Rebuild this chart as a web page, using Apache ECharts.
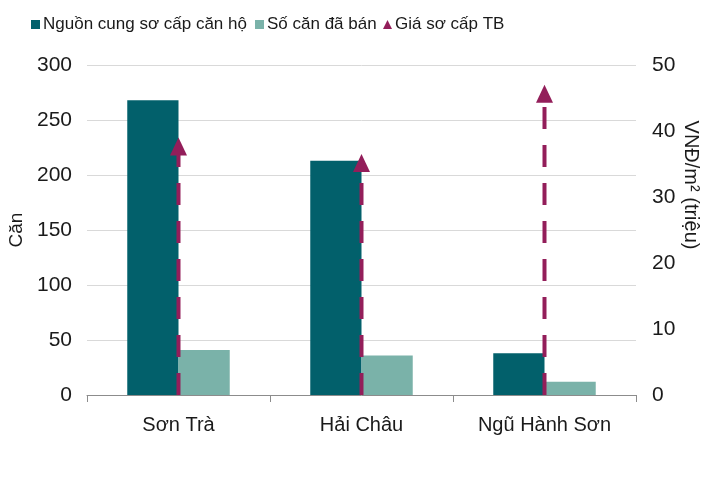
<!DOCTYPE html>
<html>
<head>
<meta charset="utf-8">
<script src="https://cdn.jsdelivr.net/npm/echarts@6/dist/echarts.min.js"></script>
<style>
  html, body { margin: 0; padding: 0; background: #fff; }
  #chart { width: 727px; height: 496px; }
</style>
</head>
<body>
<div id="chart"></div>
<script>
// dữ liệu
const districts = ['Sơn Trà', 'Hải Châu', 'Ngũ Hành Sơn']
const supply = [268, 213, 38]      // Nguồn cung sơ cấp căn hộ
const sold = [41, 36, 12]          // Số căn đã bán
const price = [39, 36.5, 47]       // Giá sơ cấp TB (triệu VNĐ/m2)
const leftTicks = [0, 50, 100, 150, 200, 250, 300]
const rightTicks = [0, 10, 20, 30, 40, 50]

const FONT = '"Liberation Sans", Arial, sans-serif'
const DARK = '#02606b'
const LIGHT = '#7ab2a9'
const PLUM = '#931e5a'
const INK = '#1a1a1a'

const myChart = echarts.init(document.getElementById('chart'))

// mũi tên đứt nét từ 0 lên giá trị
const arrowItem = (params, api) => {
	const top = api.coord([api.value(0), api.value(1)])
	const base = api.coord([api.value(0), 0])
	const head = 18, half = 8.5
	return {
		type: 'group',
		children: [
			{
				type: 'line',
				shape: { x1: base[0], y1: base[1], x2: top[0], y2: top[1] + head - 2 },
				style: { stroke: PLUM, lineWidth: 4, lineDash: [22, 16] }
			},
			{
				type: 'polygon',
				shape: { points: [[top[0], top[1]], [top[0] - half, top[1] + head], [top[0] + half, top[1] + head]] },
				style: { fill: PLUM }
			}
		]
	}
}

// mỗi mục chú thích đặt riêng một chỗ như hình gốc
const legendAt = (left, name, icon) => ({
	left: left,
	top: 11,
	itemWidth: 9,
	itemHeight: 9,
	itemGap: 0,
	textStyle: { fontFamily: FONT, fontSize: 17, color: INK, padding: [0, 0, 0, -2] },
	data: [{ name: name, icon: icon }]
})

myChart.setOption({
	animation: false,
	textStyle: { fontFamily: FONT },
	legend: [
		legendAt(26, 'Nguồn cung sơ cấp căn hộ', 'rect'),
		legendAt(250, 'Số căn đã bán', 'rect'),
		legendAt(378, 'Giá sơ cấp TB', 'triangle')
	],
	grid: { left: 87, right: 91, top: 65, bottom: 101, outerBoundsMode: 'none' },
	xAxis: {
		type: 'category',
		data: districts,
		axisLine: { lineStyle: { color: '#8c8c8c' } },
		axisTick: { show: true, length: 7, lineStyle: { color: '#8c8c8c' } },
		axisLabel: { fontFamily: FONT, fontSize: 20, color: INK, margin: 20 }
	},
	yAxis: [
		{
			type: 'value',
			min: leftTicks[0],
			max: leftTicks[leftTicks.length - 1],
			interval: 50,
			name: 'Căn',
			nameLocation: 'middle',
			nameGap: 59,
			nameTextStyle: { fontFamily: FONT, fontSize: 19, color: INK },
			axisLabel: { fontFamily: FONT, fontSize: 21, color: INK, margin: 15 },
			splitLine: { lineStyle: { color: '#d9d9d9', width: 1 } }
		},
		{
			type: 'value',
			min: rightTicks[0],
			max: rightTicks[rightTicks.length - 1],
			interval: 10,
			axisLabel: { fontFamily: FONT, fontSize: 21, color: INK, margin: 16 },
			splitLine: { show: false }
		}
	],
	graphic: [
		{
			type: 'text',
			x: 691,
			y: 185,
			rotation: -Math.PI / 2,
			style: {
				text: 'VNĐ/m² (triệu)',
				fontFamily: FONT,
				fontSize: 20,
				fill: INK,
				align: 'center',
				verticalAlign: 'middle'
			}
		}
	],
	series: [
		{
			name: 'Nguồn cung sơ cấp căn hộ',
			type: 'bar',
			data: supply,
			barGap: '0%',
			barCategoryGap: '44%',
			itemStyle: { color: DARK }
		},
		{
			name: 'Số căn đã bán',
			type: 'bar',
			data: sold,
			itemStyle: { color: LIGHT }
		},
		{
			name: 'Giá sơ cấp TB',
			type: 'custom',
			yAxisIndex: 1,
			data: price.map((v, i) => [i, v]),
			encode: { x: 0, y: 1 },
			itemStyle: { color: PLUM },
			renderItem: arrowItem,
			z: 5
		}
	]
})
</script>
</body>
</html>
